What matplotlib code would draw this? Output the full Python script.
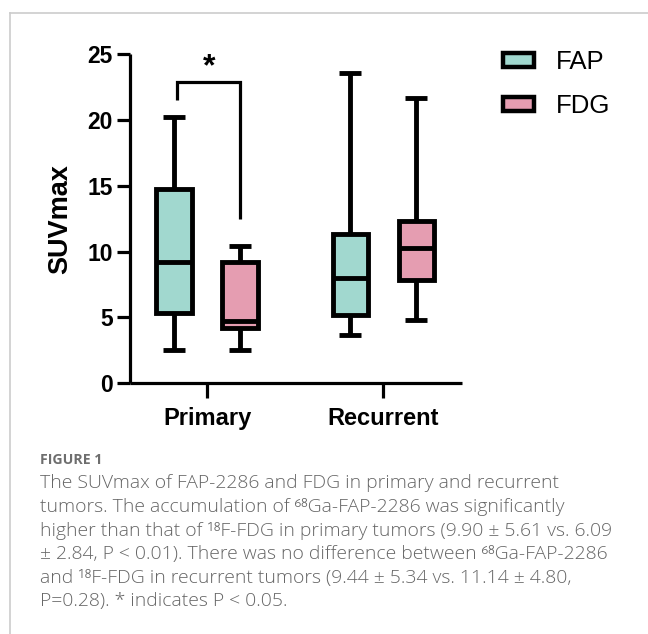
import matplotlib
matplotlib.use("Agg")
import matplotlib.pyplot as plt
from matplotlib.patches import Patch
from matplotlib.lines import Line2D

# ---------------- data ----------------
categories = ["Primary", "Recurrent"]
series = ["FAP", "FDG"]

fap_min = [2.5, 3.7]
fap_q1 = [5.35, 5.2]
fap_med = [9.2, 8.0]
fap_q3 = [14.8, 11.35]
fap_max = [20.2, 23.6]

fdg_min = [2.5, 4.8]
fdg_q1 = [4.2, 7.85]
fdg_med = [4.7, 10.3]
fdg_q3 = [9.2, 12.35]
fdg_max = [10.4, 21.7]

yticks = [0, 5, 10, 15, 20, 25]
ylabel = "SUVmax"
sig_label = "*"
sig_bracket = [21.5, 22.9, 12.5]   # left leg bottom, top, right leg bottom

caption_title = "FIGURE 1"
caption_lines = [
    "The SUVmax of FAP-2286 and FDG in primary and recurrent",
    "tumors. The accumulation of \u2076\u2078Ga-FAP-2286 was significantly",
    "higher than that of \u00b9\u2078F-FDG in primary tumors (9.90 \u00b1 5.61 vs. 6.09",
    "\u00b1 2.84, P < 0.01). There was no difference between \u2076\u2078Ga-FAP-2286",
    "and \u00b9\u2078F-FDG in recurrent tumors (9.44 \u00b1 5.34 vs. 11.14 \u00b1 4.80,",
    "P=0.28). * indicates P < 0.05.",
]

colors = {"FAP": "#a1d8cf", "FDG": "#e59db1"}

# ---------------- figure ----------------
W, H = 648, 634
fig = plt.figure(figsize=(W / 100, H / 100), dpi=100)
fig.patch.set_facecolor("white")

def fx(px):
    return px / W

def fy(py):
    return 1 - py / H

ax_left, ax_right, ax_top, ax_bot = 130, 462, 54.3, 383.3
ax = fig.add_axes([fx(ax_left), fy(ax_bot), (ax_right - ax_left) / W, (ax_bot - ax_top) / H])

offset = 0.187
box_w = 0.2
cap_w = 0.125
lw = 3.5

for si, (name, mins, q1s, meds, q3s, maxs) in enumerate([
    ("FAP", fap_min, fap_q1, fap_med, fap_q3, fap_max),
    ("FDG", fdg_min, fdg_q1, fdg_med, fdg_q3, fdg_max),
]):
    stats = []
    for i in range(len(categories)):
        stats.append(dict(whislo=mins[i], q1=q1s[i], med=meds[i], q3=q3s[i],
                          whishi=maxs[i], fliers=[]))
    pos = [i + (-offset if si == 0 else offset) for i in range(len(categories))]
    ax.bxp(stats, positions=pos, widths=box_w, capwidths=cap_w, patch_artist=True,
           showfliers=False, manage_ticks=False,
           boxprops=dict(facecolor=colors[name], edgecolor="black", linewidth=lw),
           medianprops=dict(color="black", linewidth=lw, solid_capstyle="butt"),
           whiskerprops=dict(color="black", linewidth=lw, solid_capstyle="butt"),
           capprops=dict(color="black", linewidth=lw, solid_capstyle="butt"))

ax.set_xlim(-0.437, 1.446)
ax.set_ylim(0, 25)
ax.set_xticks(range(len(categories)))
ax.set_xticklabels(categories)
ax.set_yticks(yticks)
ax.set_yticklabels([str(t) for t in yticks])

for s in ["top", "right"]:
    ax.spines[s].set_visible(False)
for s in ["left", "bottom"]:
    ax.spines[s].set_linewidth(2.3)
    ax.spines[s].set_capstyle("butt")

ax.tick_params(axis="y", length=9.4, width=2.3, pad=3, labelsize=16.5)
ax.tick_params(axis="x", length=10.8, width=2.3, pad=6, labelsize=17)
for lab in ax.get_xticklabels() + ax.get_yticklabels():
    lab.set_fontfamily("Liberation Sans")
    lab.set_fontweight("bold")

ax.set_ylabel(ylabel, fontsize=19.5, fontweight="bold", fontfamily="Liberation Sans")
ax.yaxis.set_label_coords(-0.171, 0.5)

# significance bracket
xl, xr = -0.172, offset
ax.plot([xl, xl, xr, xr], [sig_bracket[0], sig_bracket[1], sig_bracket[1], sig_bracket[2]],
        color="black", lw=2.3, solid_capstyle="butt", solid_joinstyle="miter", clip_on=False)
ax.text((xl + xr) / 2 + 0.003, 23.4, sig_label, ha="center", va="baseline",
        fontsize=23, fontweight="bold", fontfamily="Liberation Sans")

# legend
handles = [Patch(facecolor=colors[n], edgecolor="black", linewidth=3.2) for n in series]
fig.legend(handles, series, loc="upper left", bbox_to_anchor=(fx(503.5), fy(50)),
           frameon=False, prop=dict(family="Liberation Sans", size=18.5),
           handlelength=1.2, handleheight=0.5, handletextpad=0.85,
           labelspacing=0.78, borderpad=0, borderaxespad=0)

# frame
fig.add_artist(Line2D([fx(10), 1], [fy(13), fy(13)], transform=fig.transFigure,
                      color="#cccccc", lw=1.2))
fig.add_artist(Line2D([fx(10), fx(10)], [fy(13), 0], transform=fig.transFigure,
                      color="#cccccc", lw=1.2))

# caption
cap_fam = ["Open Sans", "DejaVu Sans"]
fig.text(fx(40), fy(460.5), caption_title, ha="left", va="center", fontsize=10.2,
         fontweight="bold", color="#6e6e6e", family=cap_fam)
fig.canvas.draw()
renderer = fig.canvas.get_renderer()
probe = fig.text(0, 0, caption_lines[0], fontsize=12, family=cap_fam, fontweight="light")
wpx = probe.get_window_extent(renderer).width
probe.remove()
cap_fs = 12 * 517 / wpx
for i, line in enumerate(caption_lines):
    fig.text(fx(40), fy(481.5 + i * 23.5), line, ha="left", va="center_baseline",
             fontsize=cap_fs, color="#666666", family=cap_fam, fontweight="light")

fig.savefig("out.png", dpi=100, facecolor="white")
